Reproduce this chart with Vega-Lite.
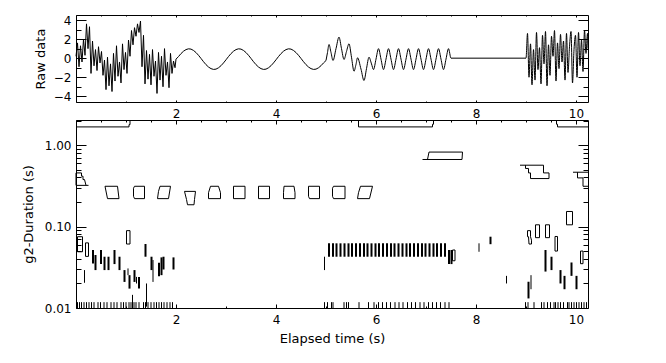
{
"$schema": "https://vega.github.io/schema/vega-lite/v6.json",
"background": "white",
"padding": {"left": 22, "top": 14, "right": 10, "bottom": 5},
"spacing": 18,
"bounds": "flush",
"config": {
  "view": {"stroke": null},
  "axis": {"domainColor": "black", "tickColor": "black", "labelColor": "black", "titleColor": "black", "labelFont": "DejaVu Sans", "titleFont": "DejaVu Sans", "labelFontSize": 12, "titleFontSize": 13, "titleFontWeight": "normal", "grid": false, "domainWidth": 1, "tickWidth": 1, "labelFlush": false, "labelOverlap": false}
},
"datasets": {
  "raw": [
    {"t":0.00,"v":0.2},{"t":0.03,"v":1.6},{"t":0.06,"v":-0.9},{"t":0.09,"v":1.3},{"t":0.12,"v":-0.4},{"t":0.15,"v":2.0},{"t":0.18,"v":0.3},{"t":0.21,"v":3.6},{"t":0.24,"v":1.0},{"t":0.27,"v":3.3},
    {"t":0.30,"v":-1.6},{"t":0.33,"v":1.8},{"t":0.36,"v":-0.8},{"t":0.39,"v":0.9},{"t":0.42,"v":-1.3},{"t":0.45,"v":1.2},{"t":0.48,"v":-0.5},{"t":0.51,"v":0.7},{"t":0.54,"v":-1.8},{"t":0.57,"v":-0.2},
    {"t":0.60,"v":-3.3},{"t":0.63,"v":0.1},{"t":0.66,"v":-2.9},{"t":0.69,"v":-0.6},{"t":0.72,"v":-3.5},{"t":0.75,"v":0.5},{"t":0.78,"v":-2.4},{"t":0.81,"v":1.3},{"t":0.84,"v":-1.9},{"t":0.87,"v":-0.4},
    {"t":0.90,"v":-2.6},{"t":0.93,"v":1.5},{"t":0.96,"v":-1.2},{"t":0.99,"v":0.6},{"t":1.02,"v":-1.6},{"t":1.05,"v":1.9},{"t":1.08,"v":0.2},{"t":1.11,"v":2.9},{"t":1.14,"v":1.4},{"t":1.17,"v":3.2},
    {"t":1.20,"v":2.3},{"t":1.23,"v":3.6},{"t":1.26,"v":2.7},{"t":1.29,"v":3.9},{"t":1.32,"v":-0.9},{"t":1.35,"v":2.4},{"t":1.38,"v":-2.7},{"t":1.41,"v":0.8},{"t":1.44,"v":-2.2},{"t":1.47,"v":0.4},
    {"t":1.50,"v":-2.8},{"t":1.53,"v":0.9},{"t":1.56,"v":-1.9},{"t":1.59,"v":-0.3},{"t":1.62,"v":-3.7},{"t":1.65,"v":0.6},{"t":1.68,"v":-2.3},{"t":1.71,"v":0.2},{"t":1.74,"v":-3.0},{"t":1.77,"v":1.0},
    {"t":1.80,"v":-1.8},{"t":1.83,"v":-0.4},{"t":1.86,"v":-3.1},{"t":1.89,"v":0.5},{"t":1.92,"v":-1.6},{"t":1.95,"v":-0.3},{"t":1.98,"v":-1.0},{"t":2.00,"v":-0.1},
    {"t":2.05,"v":0.17},{"t":2.10,"v":0.48},{"t":2.15,"v":0.73},{"t":2.20,"v":0.90},{"t":2.25,"v":0.98},{"t":2.30,"v":0.95},{"t":2.35,"v":0.81},{"t":2.40,"v":0.59},{"t":2.45,"v":0.30},{"t":2.50,"v":-0.03},
    {"t":2.55,"v":-0.37},{"t":2.60,"v":-0.68},{"t":2.65,"v":-0.93},{"t":2.70,"v":-1.10},{"t":2.75,"v":-1.18},{"t":2.80,"v":-1.15},{"t":2.85,"v":-1.01},{"t":2.90,"v":-0.79},{"t":2.95,"v":-0.50},{"t":3.00,"v":-0.17},
    {"t":3.05,"v":0.17},{"t":3.10,"v":0.48},{"t":3.15,"v":0.73},{"t":3.20,"v":0.90},{"t":3.25,"v":0.98},{"t":3.30,"v":0.95},{"t":3.35,"v":0.81},{"t":3.40,"v":0.59},{"t":3.45,"v":0.30},{"t":3.50,"v":-0.03},
    {"t":3.55,"v":-0.37},{"t":3.60,"v":-0.68},{"t":3.65,"v":-0.93},{"t":3.70,"v":-1.10},{"t":3.75,"v":-1.18},{"t":3.80,"v":-1.15},{"t":3.85,"v":-1.01},{"t":3.90,"v":-0.79},{"t":3.95,"v":-0.50},{"t":4.00,"v":-0.17},
    {"t":4.05,"v":0.17},{"t":4.10,"v":0.48},{"t":4.15,"v":0.73},{"t":4.20,"v":0.90},{"t":4.25,"v":0.98},{"t":4.30,"v":0.95},{"t":4.35,"v":0.81},{"t":4.40,"v":0.59},{"t":4.45,"v":0.30},{"t":4.50,"v":-0.03},
    {"t":4.55,"v":-0.37},{"t":4.60,"v":-0.68},{"t":4.65,"v":-0.93},{"t":4.70,"v":-1.10},{"t":4.75,"v":-1.18},{"t":4.80,"v":-1.15},{"t":4.85,"v":-1.01},{"t":4.90,"v":-0.79},{"t":4.95,"v":-0.50},
    {"t":5.00,"v":-0.25},{"t":5.03,"v":0.6},{"t":5.06,"v":1.44},{"t":5.10,"v":0.6},{"t":5.14,"v":-0.25},{"t":5.20,"v":1.0},{"t":5.26,"v":2.21},{"t":5.31,"v":1.0},{"t":5.36,"v":-0.14},{"t":5.41,"v":0.7},
    {"t":5.46,"v":1.51},{"t":5.51,"v":0.1},{"t":5.56,"v":-1.37},{"t":5.60,"v":-0.65},{"t":5.63,"v":0.04},{"t":5.70,"v":-1.15},{"t":5.76,"v":-2.35},{"t":5.81,"v":-1.1},{"t":5.86,"v":0.1},{"t":5.91,"v":-0.6},
    {"t":5.95,"v":-1.2},{"t":6.00,"v":-0.1},
    {"t":6.05,"v":1.0},{"t":6.10,"v":-0.1},{"t":6.15,"v":-1.2},{"t":6.20,"v":-0.1},{"t":6.25,"v":1.0},{"t":6.30,"v":-0.1},{"t":6.35,"v":-1.2},{"t":6.40,"v":-0.1},
    {"t":6.45,"v":1.0},{"t":6.50,"v":-0.1},{"t":6.55,"v":-1.2},{"t":6.60,"v":-0.1},{"t":6.65,"v":1.0},{"t":6.70,"v":-0.1},{"t":6.75,"v":-1.2},{"t":6.80,"v":-0.1},
    {"t":6.85,"v":1.0},{"t":6.90,"v":-0.1},{"t":6.95,"v":-1.2},{"t":7.00,"v":-0.1},{"t":7.05,"v":1.0},{"t":7.10,"v":-0.1},{"t":7.15,"v":-1.2},{"t":7.20,"v":-0.1},
    {"t":7.25,"v":1.0},{"t":7.30,"v":-0.1},{"t":7.35,"v":-1.2},{"t":7.40,"v":-0.1},{"t":7.45,"v":1.0},{"t":7.50,"v":0.0},{"t":9.00,"v":0.0},
    {"t":9.03,"v":2.6},{"t":9.06,"v":-2.0},{"t":9.09,"v":1.5},{"t":9.12,"v":-2.8},{"t":9.15,"v":0.9},{"t":9.18,"v":-2.3},{"t":9.21,"v":2.7},{"t":9.24,"v":-1.2},{"t":9.27,"v":1.1},{"t":9.30,"v":-2.7},
    {"t":9.33,"v":2.4},{"t":9.36,"v":-0.6},{"t":9.39,"v":2.8},{"t":9.42,"v":-2.9},{"t":9.45,"v":1.4},{"t":9.48,"v":-1.8},{"t":9.51,"v":2.3},{"t":9.54,"v":0.2},{"t":9.57,"v":2.9},{"t":9.60,"v":-2.4},
    {"t":9.63,"v":1.6},{"t":9.66,"v":-1.1},{"t":9.69,"v":2.5},{"t":9.72,"v":-0.4},{"t":9.75,"v":1.8},{"t":9.78,"v":-2.3},{"t":9.81,"v":2.6},{"t":9.84,"v":-1.5},{"t":9.87,"v":1.2},{"t":9.90,"v":2.8},
    {"t":9.93,"v":-2.6},{"t":9.96,"v":0.9},{"t":9.99,"v":2.4},{"t":10.02,"v":-2.0},{"t":10.05,"v":2.7},{"t":10.08,"v":-0.8},{"t":10.11,"v":1.9},{"t":10.14,"v":-1.4},{"t":10.17,"v":2.9},{"t":10.20,"v":0.5},
    {"t":10.23,"v":2.6},{"t":10.24,"v":1.0}
  ],
  "poly": [
    {"s":"tl","o":0,"t":0,"d":1.67},{"s":"tl","o":1,"t":1.06,"d":1.67},{"s":"tl","o":2,"t":1.06,"d":1.78},{"s":"tl","o":3,"t":1.08,"d":1.78},{"s":"tl","o":4,"t":1.08,"d":2.03},
    {"s":"tm","o":0,"t":5.65,"d":2.03},{"s":"tm","o":1,"t":5.65,"d":1.67},{"s":"tm","o":2,"t":7.13,"d":1.67},{"s":"tm","o":3,"t":7.13,"d":1.8},{"s":"tm","o":4,"t":7.15,"d":1.8},{"s":"tm","o":5,"t":7.15,"d":2.03},
    {"s":"tr","o":0,"t":9.61,"d":2.03},{"s":"tr","o":1,"t":9.61,"d":1.8},{"s":"tr","o":2,"t":9.63,"d":1.8},{"s":"tr","o":3,"t":9.63,"d":1.67},{"s":"tr","o":4,"t":10.24,"d":1.67},
    {"s":"pg","o":0,"t":6.93,"d":0.665},{"s":"pg","o":1,"t":7.72,"d":0.665},{"s":"pg","o":2,"t":7.73,"d":0.82},{"s":"pg","o":3,"t":7.06,"d":0.82},{"s":"pg","o":4,"t":7.03,"d":0.665},
    {"s":"st","o":0,"t":8.88,"d":0.566},{"s":"st","o":1,"t":9.35,"d":0.566},{"s":"st","o":2,"t":9.35,"d":0.455},{"s":"st","o":3,"t":9.46,"d":0.455},{"s":"st","o":4,"t":9.46,"d":0.388},{"s":"st","o":5,"t":9.09,"d":0.388},{"s":"st","o":6,"t":9.09,"d":0.455},{"s":"st","o":7,"t":9.05,"d":0.455},{"s":"st","o":8,"t":9.05,"d":0.516},{"s":"st","o":9,"t":8.99,"d":0.516},{"s":"st","o":10,"t":8.99,"d":0.566},
    {"s":"r1","o":0,"t":9.94,"d":0.464},{"s":"r1","o":1,"t":10.24,"d":0.464},
    {"s":"r2","o":0,"t":10.03,"d":0.464},{"s":"r2","o":1,"t":10.03,"d":0.395},{"s":"r2","o":2,"t":10.14,"d":0.395},{"s":"r2","o":3,"t":10.14,"d":0.312},{"s":"r2","o":4,"t":10.24,"d":0.312},
    {"s":"ls","o":0,"t":0.25,"d":0.32},{"s":"ls","o":1,"t":0,"d":0.32},{"s":"ls","o":2,"t":0,"d":0.455},{"s":"ls","o":3,"t":0.11,"d":0.455},{"s":"ls","o":4,"t":0.11,"d":0.415},{"s":"ls","o":5,"t":0.14,"d":0.415},{"s":"ls","o":6,"t":0.14,"d":0.377},{"s":"ls","o":7,"t":0.17,"d":0.377},{"s":"ls","o":8,"t":0.2,"d":0.32},
    {"s":"b1","o":0,"t":0.58,"d":0.312},{"s":"b1","o":1,"t":0.83,"d":0.312},{"s":"b1","o":2,"t":0.86,"d":0.22},{"s":"b1","o":3,"t":0.63,"d":0.22},{"s":"b1","o":4,"t":0.58,"d":0.312},
    {"s":"b2","o":0,"t":1.17,"d":0.312},{"s":"b2","o":1,"t":1.37,"d":0.312},{"s":"b2","o":2,"t":1.37,"d":0.22},{"s":"b2","o":3,"t":1.17,"d":0.22},{"s":"b2","o":4,"t":1.15,"d":0.235},{"s":"b2","o":5,"t":1.15,"d":0.295},{"s":"b2","o":6,"t":1.17,"d":0.312},
    {"s":"b3","o":0,"t":1.68,"d":0.312},{"s":"b3","o":1,"t":1.89,"d":0.312},{"s":"b3","o":2,"t":1.85,"d":0.22},{"s":"b3","o":3,"t":1.63,"d":0.22},{"s":"b3","o":4,"t":1.65,"d":0.27},{"s":"b3","o":5,"t":1.68,"d":0.312},
    {"s":"b4","o":0,"t":2.17,"d":0.27},{"s":"b4","o":1,"t":2.39,"d":0.27},{"s":"b4","o":2,"t":2.37,"d":0.215},{"s":"b4","o":3,"t":2.36,"d":0.185},{"s":"b4","o":4,"t":2.23,"d":0.185},{"s":"b4","o":5,"t":2.21,"d":0.215},{"s":"b4","o":6,"t":2.17,"d":0.27},
    {"s":"b5","o":0,"t":2.69,"d":0.312},{"s":"b5","o":1,"t":2.85,"d":0.312},{"s":"b5","o":2,"t":2.89,"d":0.26},{"s":"b5","o":3,"t":2.89,"d":0.22},{"s":"b5","o":4,"t":2.65,"d":0.22},{"s":"b5","o":5,"t":2.65,"d":0.26},{"s":"b5","o":6,"t":2.69,"d":0.312},
    {"s":"b6","o":0,"t":3.15,"d":0.312},{"s":"b6","o":1,"t":3.38,"d":0.312},{"s":"b6","o":2,"t":3.38,"d":0.22},{"s":"b6","o":3,"t":3.15,"d":0.22},{"s":"b6","o":4,"t":3.15,"d":0.312},
    {"s":"b7","o":0,"t":3.65,"d":0.312},{"s":"b7","o":1,"t":3.87,"d":0.312},{"s":"b7","o":2,"t":3.87,"d":0.22},{"s":"b7","o":3,"t":3.65,"d":0.22},{"s":"b7","o":4,"t":3.65,"d":0.312},
    {"s":"b8","o":0,"t":4.16,"d":0.312},{"s":"b8","o":1,"t":4.36,"d":0.312},{"s":"b8","o":2,"t":4.38,"d":0.26},{"s":"b8","o":3,"t":4.38,"d":0.22},{"s":"b8","o":4,"t":4.15,"d":0.22},{"s":"b8","o":5,"t":4.15,"d":0.26},{"s":"b8","o":6,"t":4.16,"d":0.312},
    {"s":"b9","o":0,"t":4.65,"d":0.312},{"s":"b9","o":1,"t":4.87,"d":0.312},{"s":"b9","o":2,"t":4.87,"d":0.22},{"s":"b9","o":3,"t":4.67,"d":0.22},{"s":"b9","o":4,"t":4.65,"d":0.235},{"s":"b9","o":5,"t":4.65,"d":0.312},
    {"s":"b10","o":0,"t":5.15,"d":0.312},{"s":"b10","o":1,"t":5.38,"d":0.312},{"s":"b10","o":2,"t":5.38,"d":0.22},{"s":"b10","o":3,"t":5.15,"d":0.22},{"s":"b10","o":4,"t":5.13,"d":0.235},{"s":"b10","o":5,"t":5.13,"d":0.295},{"s":"b10","o":6,"t":5.15,"d":0.312},
    {"s":"b11","o":0,"t":5.69,"d":0.312},{"s":"b11","o":1,"t":5.93,"d":0.312},{"s":"b11","o":2,"t":5.87,"d":0.22},{"s":"b11","o":3,"t":5.63,"d":0.22},{"s":"b11","o":4,"t":5.65,"d":0.26},{"s":"b11","o":5,"t":5.69,"d":0.312},
    {"s":"sb1","o":0,"t":1.01,"d":0.089},{"s":"sb1","o":1,"t":1.08,"d":0.089},{"s":"sb1","o":2,"t":1.08,"d":0.061},{"s":"sb1","o":3,"t":1.01,"d":0.061},{"s":"sb1","o":4,"t":1.01,"d":0.089},
    {"s":"sb2","o":0,"t":9.03,"d":0.089},{"s":"sb2","o":1,"t":9.09,"d":0.089},{"s":"sb2","o":2,"t":9.09,"d":0.075},{"s":"sb2","o":3,"t":9.11,"d":0.068},{"s":"sb2","o":4,"t":9.11,"d":0.061},{"s":"sb2","o":5,"t":9.06,"d":0.061},{"s":"sb2","o":6,"t":9.05,"d":0.075},{"s":"sb2","o":7,"t":9.03,"d":0.075},{"s":"sb2","o":8,"t":9.03,"d":0.089},
    {"s":"sb3","o":0,"t":9.19,"d":0.105},{"s":"sb3","o":1,"t":9.27,"d":0.105},{"s":"sb3","o":2,"t":9.27,"d":0.073},{"s":"sb3","o":3,"t":9.19,"d":0.073},{"s":"sb3","o":4,"t":9.19,"d":0.105},
    {"s":"sb4","o":0,"t":9.39,"d":0.105},{"s":"sb4","o":1,"t":9.47,"d":0.105},{"s":"sb4","o":2,"t":9.47,"d":0.073},{"s":"sb4","o":3,"t":9.39,"d":0.073},{"s":"sb4","o":4,"t":9.39,"d":0.105},
    {"s":"sb5","o":0,"t":9.58,"d":0.0755},{"s":"sb5","o":1,"t":9.63,"d":0.0755},{"s":"sb5","o":2,"t":9.63,"d":0.05},{"s":"sb5","o":3,"t":9.58,"d":0.05},{"s":"sb5","o":4,"t":9.58,"d":0.0755},
    {"s":"sb6","o":0,"t":9.81,"d":0.153},{"s":"sb6","o":1,"t":9.93,"d":0.153},{"s":"sb6","o":2,"t":9.93,"d":0.105},{"s":"sb6","o":3,"t":9.81,"d":0.105},{"s":"sb6","o":4,"t":9.81,"d":0.153},
    {"s":"sb7","o":0,"t":0.03,"d":0.075},{"s":"sb7","o":1,"t":0.13,"d":0.075},{"s":"sb7","o":2,"t":0.13,"d":0.049},{"s":"sb7","o":3,"t":0.03,"d":0.049},{"s":"sb7","o":4,"t":0.03,"d":0.075},
    {"s":"sb8","o":0,"t":0.19,"d":0.063},{"s":"sb8","o":1,"t":0.25,"d":0.063},{"s":"sb8","o":2,"t":0.25,"d":0.043},{"s":"sb8","o":3,"t":0.19,"d":0.043},{"s":"sb8","o":4,"t":0.19,"d":0.063},
    {"s":"sb9","o":0,"t":10.09,"d":0.05},{"s":"sb9","o":1,"t":10.14,"d":0.05},{"s":"sb9","o":2,"t":10.14,"d":0.035},{"s":"sb9","o":3,"t":10.09,"d":0.035},{"s":"sb9","o":4,"t":10.09,"d":0.05},
    {"s":"sb10","o":0,"t":7.53,"d":0.0515},{"s":"sb10","o":1,"t":7.58,"d":0.0515},{"s":"sb10","o":2,"t":7.58,"d":0.038},{"s":"sb10","o":3,"t":7.53,"d":0.038},{"s":"sb10","o":4,"t":7.53,"d":0.0515}
  ],
  "thick": [
    {"t":0.34,"lo":0.0352,"hi":0.0515},{"t":0.39,"lo":0.0292,"hi":0.0447},{"t":0.50,"lo":0.0346,"hi":0.0515},{"t":0.57,"lo":0.0292,"hi":0.0426},{"t":0.65,"lo":0.0292,"hi":0.0426},
    {"t":0.77,"lo":0.0346,"hi":0.0515},{"t":0.87,"lo":0.0292,"hi":0.0426},{"t":0.97,"lo":0.0209,"hi":0.0292},{"t":1.07,"lo":0.0173,"hi":0.0253},{"t":1.17,"lo":0.0209,"hi":0.0292},
    {"t":1.26,"lo":0.0173,"hi":0.0241},{"t":1.39,"lo":0.0426,"hi":0.061},{"t":1.51,"lo":0.0292,"hi":0.0426},{"t":1.66,"lo":0.0246,"hi":0.036},{"t":1.71,"lo":0.0253,"hi":0.0418},
    {"t":1.75,"lo":0.0297,"hi":0.0426},{"t":1.95,"lo":0.0297,"hi":0.0418},
    {"t":5.06,"lo":0.0426,"hi":0.0622},{"t":5.14,"lo":0.0426,"hi":0.0622},{"t":5.21,"lo":0.0426,"hi":0.0622},{"t":5.29,"lo":0.0426,"hi":0.0622},{"t":5.37,"lo":0.0426,"hi":0.0622},
    {"t":5.45,"lo":0.0426,"hi":0.0622},{"t":5.52,"lo":0.0426,"hi":0.0622},{"t":5.60,"lo":0.0426,"hi":0.0622},{"t":5.68,"lo":0.0426,"hi":0.0622},{"t":5.76,"lo":0.0426,"hi":0.0622},
    {"t":5.83,"lo":0.0426,"hi":0.0622},{"t":5.91,"lo":0.0426,"hi":0.0622},{"t":5.99,"lo":0.0426,"hi":0.0622},{"t":6.06,"lo":0.0426,"hi":0.0622},{"t":6.14,"lo":0.0426,"hi":0.0622},
    {"t":6.22,"lo":0.0426,"hi":0.0622},{"t":6.30,"lo":0.0426,"hi":0.0622},{"t":6.37,"lo":0.0426,"hi":0.0622},{"t":6.45,"lo":0.0426,"hi":0.0622},{"t":6.53,"lo":0.0426,"hi":0.0622},
    {"t":6.61,"lo":0.0426,"hi":0.0622},{"t":6.68,"lo":0.0426,"hi":0.0622},{"t":6.76,"lo":0.0426,"hi":0.0622},{"t":6.84,"lo":0.0426,"hi":0.0622},{"t":6.92,"lo":0.0426,"hi":0.0622},
    {"t":6.99,"lo":0.0426,"hi":0.0622},{"t":7.07,"lo":0.0426,"hi":0.0622},{"t":7.15,"lo":0.0426,"hi":0.0622},{"t":7.22,"lo":0.0426,"hi":0.0622},{"t":7.30,"lo":0.0426,"hi":0.0622},
    {"t":7.38,"lo":0.0426,"hi":0.0622},
    {"t":7.46,"lo":0.0346,"hi":0.0515},{"t":7.51,"lo":0.0346,"hi":0.0515},{"t":8.29,"lo":0.0607,"hi":0.075},{"t":9.05,"lo":0.0131,"hi":0.021},
    {"t":9.39,"lo":0.028,"hi":0.0515},{"t":9.51,"lo":0.0292,"hi":0.0426},{"t":9.69,"lo":0.02,"hi":0.0292},{"t":9.77,"lo":0.017,"hi":0.0248},{"t":9.91,"lo":0.0248,"hi":0.0362},{"t":10.01,"lo":0.017,"hi":0.0248}
  ],
  "thin": [
    {"t":0.17,"lo":0.0204,"hi":0.0292},{"t":1.04,"lo":0.0253,"hi":0.0306},{"t":1.21,"lo":0.02,"hi":0.0241},{"t":1.13,"lo":0.01,"hi":0.0145},{"t":1.41,"lo":0.0104,"hi":0.02},
    {"t":1.54,"lo":0.0209,"hi":0.0388},{"t":4.97,"lo":0.0292,"hi":0.0426},{"t":8.06,"lo":0.049,"hi":0.0622},{"t":8.61,"lo":0.02,"hi":0.0248},{"t":9.10,"lo":0.017,"hi":0.0253}
  ],
  "base": [
    {"t":0.03},{"t":0.07},{"t":0.11},{"t":0.16},{"t":0.21},{"t":0.26},{"t":0.31},{"t":0.36},{"t":0.44},{"t":0.49},{"t":0.56},{"t":0.62},{"t":0.70},{"t":0.76},{"t":0.82},{"t":0.90},{"t":0.95},{"t":1.00},
    {"t":1.06},{"t":1.10},{"t":1.16},{"t":1.20},{"t":1.26},{"t":1.35},{"t":1.39},{"t":1.44},{"t":1.50},{"t":1.56},{"t":1.61},{"t":1.66},{"t":1.71},{"t":1.76},{"t":1.82},{"t":1.88},{"t":1.93},
    {"t":4.97},{"t":5.03},{"t":5.11},{"t":5.14},{"t":5.36},{"t":5.41},{"t":5.45},{"t":5.66},{"t":5.85},{"t":5.96},{"t":6.05},{"t":6.13},{"t":6.21},{"t":6.29},{"t":6.38},{"t":6.46},{"t":6.54},
    {"t":6.63},{"t":6.71},{"t":6.79},{"t":6.88},{"t":6.96},{"t":7.05},{"t":7.13},{"t":7.21},{"t":7.29},{"t":7.38},{"t":7.46},
    {"t":8.99},{"t":9.04},{"t":9.16},{"t":9.31},{"t":9.36},{"t":9.43},{"t":9.49},{"t":9.56},{"t":9.59},{"t":9.64},{"t":9.69},{"t":9.75},{"t":9.83},{"t":9.86},{"t":9.91},{"t":9.96},{"t":10.01},{"t":10.06},{"t":10.11},{"t":10.16},{"t":10.21}
  ]
},
"vconcat": [
  {
    "width": 512, "height": 87,
    "resolve": {"axis": {"x": "independent", "y": "independent"}},
    "layer": [
      {
        "data": {"name": "raw"},
        "transform": [{"filter": "datum.t <= 5"}],
        "mark": {"type": "line", "color": "black", "strokeWidth": 1},
        "encoding": {
          "x": {"field": "t", "type": "quantitative", "scale": {"domain": [0, 10.24], "nice": false, "zero": false},
                "axis": {"orient": "bottom", "values": [0,0.5,1,1.5,2,2.5,3,3.5,4,4.5,5,5.5,6,6.5,7,7.5,8,8.5,9,9.5,10], "format": "d",
                         "labelExpr": "datum.value % 2 === 0 && datum.value > 0 ? datum.label : ''",
                         "tickSize": {"condition": {"test": "datum.value % 2 === 0", "value": -2}, "value": -1},
                         "labelPadding": 8, "title": null}},
          "y": {"field": "v", "type": "quantitative", "scale": {"domain": [-4.6, 4.53], "nice": false, "zero": false},
                "axis": {"orient": "left", "values": [-4,-3,-2,-1,0,1,2,3,4], "format": "d",
                         "labelExpr": "datum.value % 2 === 0 ? datum.label : ''",
                         "tickSize": {"condition": {"test": "datum.value % 2 === 0", "value": -10}, "value": -5},
                         "labelPadding": 15, "title": "Raw data", "titleX": -32, "titleY": 43.5, "titleAngle": -90, "titleAlign": "center", "titleBaseline": "alphabetic"}}
        }
      },
      {
        "data": {"name": "raw"},
        "transform": [{"filter": "datum.t >= 5"}],
        "mark": {"type": "line", "color": "black", "strokeWidth": 1, "interpolate": "monotone"},
        "encoding": {
          "x": {"field": "t", "type": "quantitative", "scale": {"domain": [0, 10.24], "nice": false, "zero": false},
                "axis": {"orient": "top", "values": [0,0.5,1,1.5,2,2.5,3,3.5,4,4.5,5,5.5,6,6.5,7,7.5,8,8.5,9,9.5,10], "labels": false,
                         "tickSize": {"condition": {"test": "datum.value % 2 === 0", "value": -2}, "value": -1}, "title": null}},
          "y": {"field": "v", "type": "quantitative", "scale": {"domain": [-4.6, 4.53], "nice": false, "zero": false},
                "axis": {"orient": "right", "values": [-4,-3,-2,-1,0,1,2,3,4], "labels": false,
                         "tickSize": {"condition": {"test": "datum.value % 2 === 0", "value": -10}, "value": -5}, "title": null}}
        }
      }
    ]
  },
  {
    "width": 512, "height": 188,
    "resolve": {"axis": {"x": "independent", "y": "independent"}},
    "layer": [
      {
        "data": {"name": "poly"},
        "mark": {"type": "line", "color": "black", "strokeWidth": 1},
        "encoding": {
          "x": {"field": "t", "type": "quantitative", "scale": {"domain": [0, 10.24], "nice": false, "zero": false},
                "axis": {"orient": "bottom", "values": [0,0.5,1,1.5,2,2.5,3,3.5,4,4.5,5,5.5,6,6.5,7,7.5,8,8.5,9,9.5,10], "format": "d",
                         "labelExpr": "datum.value % 2 === 0 && datum.value > 0 ? datum.label : ''",
                         "tickSize": {"condition": {"test": "datum.value % 2 === 0", "value": -4}, "value": -2},
                         "labelPadding": 10, "title": "Elapsed time (s)", "titleY": 34, "titleBaseline": "alphabetic"}},
          "y": {"field": "d", "type": "quantitative", "scale": {"type": "log", "domain": [0.01, 2.03], "nice": false},
                "axis": {"orient": "left", "values": [0.01,0.02,0.03,0.04,0.05,0.06,0.07,0.08,0.09,0.1,0.2,0.3,0.4,0.5,0.6,0.7,0.8,0.9,1,2], "format": ".2f",
                         "labelExpr": "datum.value === 0.01 || datum.value === 0.1 || datum.value === 1 ? datum.label : ''",
                         "tickSize": {"condition": {"test": "datum.value === 0.01 || datum.value === 0.1 || datum.value === 1", "value": -10}, "value": -5},
                         "labelPadding": 15, "title": "g2-Duration (s)", "titleX": -44, "titleY": 94, "titleAngle": -90, "titleAlign": "center", "titleBaseline": "alphabetic"}},
          "detail": {"field": "s"},
          "order": {"field": "o"}
        }
      },
      {
        "data": {"name": "thick"},
        "mark": {"type": "rule", "color": "black", "strokeWidth": 2},
        "encoding": {
          "x": {"field": "t", "type": "quantitative", "scale": {"domain": [0, 10.24], "nice": false, "zero": false},
                "axis": {"orient": "top", "values": [0,0.5,1,1.5,2,2.5,3,3.5,4,4.5,5,5.5,6,6.5,7,7.5,8,8.5,9,9.5,10], "labels": false,
                         "tickSize": {"condition": {"test": "datum.value % 2 === 0", "value": -4}, "value": -2}, "title": null}},
          "y": {"field": "lo", "type": "quantitative", "scale": {"type": "log", "domain": [0.01, 2.03], "nice": false},
                "axis": {"orient": "right", "values": [0.01,0.02,0.03,0.04,0.05,0.06,0.07,0.08,0.09,0.1,0.2,0.3,0.4,0.5,0.6,0.7,0.8,0.9,1,2], "labels": false,
                         "tickSize": {"condition": {"test": "datum.value === 0.01 || datum.value === 0.1 || datum.value === 1", "value": -10}, "value": -5}, "title": null}},
          "y2": {"field": "hi"}
        }
      },
      {
        "data": {"name": "thin"},
        "mark": {"type": "rule", "color": "black", "strokeWidth": 1},
        "encoding": {
          "x": {"field": "t", "type": "quantitative", "scale": {"domain": [0, 10.24], "nice": false, "zero": false}, "axis": null},
          "y": {"field": "lo", "type": "quantitative", "scale": {"type": "log", "domain": [0.01, 2.03], "nice": false}, "axis": null},
          "y2": {"field": "hi"}
        }
      },
      {
        "data": {"name": "base"},
        "mark": {"type": "rule", "color": "black", "strokeWidth": 1},
        "encoding": {
          "x": {"field": "t", "type": "quantitative", "scale": {"domain": [0, 10.24], "nice": false, "zero": false}, "axis": null},
          "y": {"datum": 0.01, "type": "quantitative", "scale": {"type": "log", "domain": [0.01, 2.03], "nice": false}, "axis": null},
          "y2": {"datum": 0.0118}
        }
      }
    ]
  }
]
}
